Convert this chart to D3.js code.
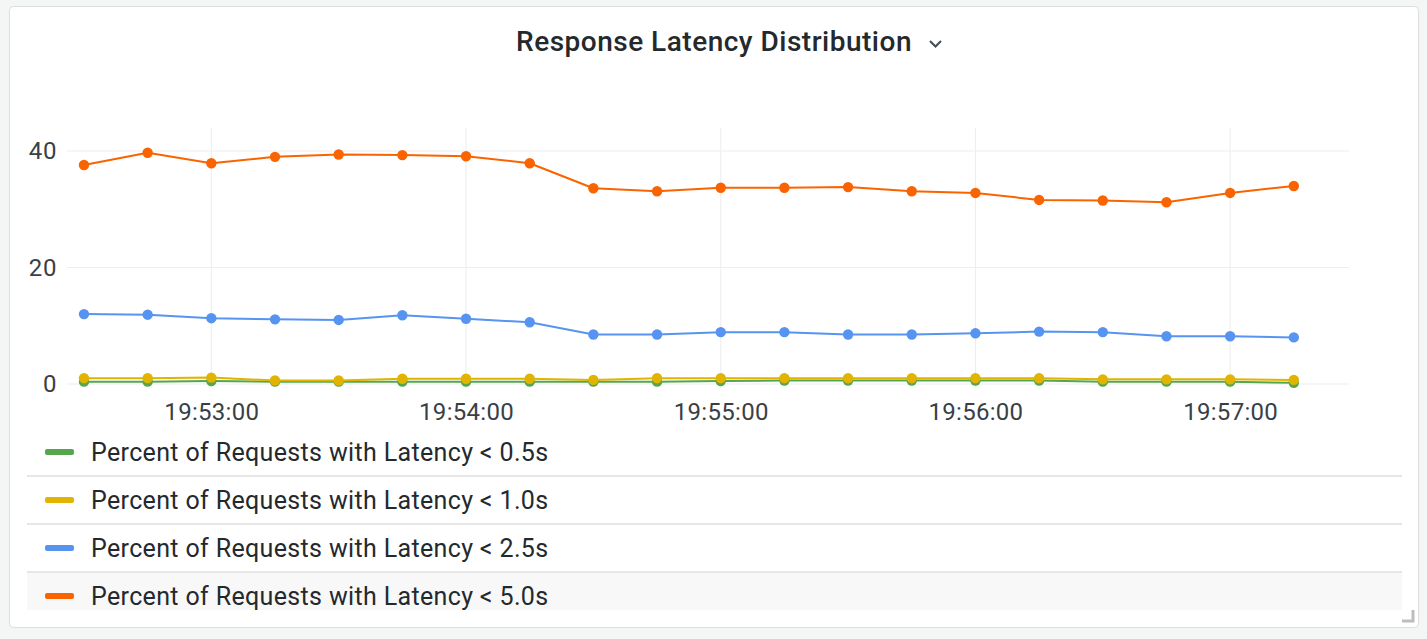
<!DOCTYPE html>
<html><head><meta charset="utf-8">
<script src="https://cdn.jsdelivr.net/npm/d3@7"></script>
<style>
html,body{margin:0;padding:0;background:#f4f5f5;overflow:hidden;}
svg{display:block;font-family:Roboto,"Noto Sans",sans-serif;}
</style></head><body>
<svg id="chart" width="1427" height="639"></svg>
<script>
const times = ["19:52:30","19:52:45","19:53:00","19:53:15","19:53:30","19:53:45","19:54:00","19:54:15","19:54:30","19:54:45",
               "19:55:00","19:55:15","19:55:30","19:55:45","19:56:00","19:56:15","19:56:30","19:56:45","19:57:00","19:57:15"];
const seriesNames = ["Percent of Requests with Latency < 0.5s","Percent of Requests with Latency < 1.0s",
                     "Percent of Requests with Latency < 2.5s","Percent of Requests with Latency < 5.0s"];
const seriesColors = ["#56a64b","#e0b400","#5794f2","#fa6400"];
const lt05 = [0.4,0.4,0.5,0.4,0.4,0.4,0.4,0.4,0.4,0.4, 0.5,0.6,0.6,0.6,0.6,0.6,0.4,0.4,0.4,0.2];
const lt10 = [1.0,1.0,1.1,0.6,0.6,0.9,0.9,0.9,0.7,1.0, 1.0,1.0,1.0,1.0,1.0,1.0,0.8,0.8,0.8,0.7];
const lt25 = [12.0,11.9,11.3,11.1,11.0,11.8,11.2,10.6,8.5,8.5, 8.9,8.9,8.5,8.5,8.7,9.0,8.9,8.2,8.2,8.0];
const lt50 = [37.6,39.7,37.9,39.0,39.4,39.3,39.1,37.9,33.6,33.1, 33.7,33.7,33.8,33.1,32.8,31.6,31.5,31.2,32.8,34.0];
const yTicks = [0,20,40];
const xTickLabels = ["19:53:00","19:54:00","19:55:00","19:56:00","19:57:00"];
const timeDomain = ["19:52:26","19:57:28"];

const seriesValues = [lt05, lt10, lt25, lt50];
const parse = d3.timeParse("%H:%M:%S");
const svg = d3.select("#chart");

// panel
svg.append("rect").attr("x",9.5).attr("y",6.5).attr("width",1409).attr("height",621)
  .attr("rx",4).attr("fill","#ffffff").attr("stroke","#dcdde0");

// title
svg.append("text").attr("x",714).attr("y",51).attr("text-anchor","middle")
  .attr("font-size",28).attr("font-weight",500).attr("letter-spacing",0.5).attr("fill","#24292e")
  .text("Response Latency Distribution");
svg.append("path").attr("d","M930,41 L935.5,46.5 L941,41").attr("fill","none")
  .attr("stroke","#464c54").attr("stroke-width",2);

const x = d3.scaleTime().domain(timeDomain.map(parse)).range([67,1349]);
const y = d3.scaleLinear().domain([0,43.95]).range([384,128]);

// grid
const g = svg.append("g");
g.selectAll(".hg").data(yTicks).join("line")
  .attr("x1",67).attr("x2",1349).attr("y1",d=>y(d)).attr("y2",d=>y(d))
  .attr("stroke","#ededed").attr("stroke-width",1);
g.selectAll(".vg").data(xTickLabels).join("line")
  .attr("x1",d=>x(parse(d))).attr("x2",d=>x(parse(d))).attr("y1",128).attr("y2",388)
  .attr("stroke","#ededed").attr("stroke-width",1);

// axes
const yAxis = d3.axisLeft(y).tickValues(yTicks).tickSize(0).tickPadding(0);
const ya = svg.append("g").attr("transform","translate(57,0)").call(yAxis);
ya.select(".domain").remove();
ya.selectAll("text").attr("font-size",24).attr("letter-spacing",0.6).attr("fill","#3a3f45").attr("font-family","Roboto");

const xAxis = d3.axisBottom(x).tickValues(xTickLabels.map(parse)).tickFormat(d3.timeFormat("%H:%M:%S")).tickSize(0).tickPadding(0);
const xa = svg.append("g").attr("transform","translate(0,403)").call(xAxis);
xa.select(".domain").remove();
xa.selectAll("text").attr("font-size",24).attr("letter-spacing",0.3).attr("fill","#3a3f45").attr("font-family","Roboto");

// series
const line = d3.line().x((d,i)=>x(parse(times[i]))).y(d=>y(d));
const order = [3,2,0,1];
order.forEach(si=>{
  const vals = seriesValues[si];
  svg.append("path").datum(vals).attr("d",line).attr("fill","none")
    .attr("stroke",seriesColors[si]).attr("stroke-width",2).attr("stroke-linejoin","round");
  svg.append("g").selectAll("circle").data(vals).join("circle")
    .attr("cx",(d,i)=>x(parse(times[i]))).attr("cy",d=>y(d)).attr("r",5.2)
    .attr("fill",seriesColors[si]);
});

// legend
const leg = svg.append("g");
const rowY = d3.scaleBand().domain(d3.range(seriesNames.length)).range([428,620]);
leg.append("rect").attr("x",27).attr("y",573).attr("width",1375).attr("height",37).attr("fill","#f8f8f9");
seriesNames.forEach((name,i)=>{
  const cy = rowY(i) + 24;
  leg.append("rect").attr("x",45).attr("y",cy-3).attr("width",29).attr("height",6).attr("rx",2)
    .attr("fill",seriesColors[i]);
  leg.append("text").attr("x",91).attr("y",cy+9).attr("font-size",25).attr("letter-spacing",0.35)
    .attr("fill","#24292e").text(name);
  if(i<seriesNames.length-1){
    leg.append("line").attr("x1",27).attr("x2",1402).attr("y1",rowY(i)+48).attr("y2",rowY(i)+48)
      .attr("stroke","#e6e6e7").attr("stroke-width",2);
  }
});
// resize handle
svg.append("path").attr("d","M1402,621 H1413 V610").attr("fill","none").attr("stroke","#bdbdbd").attr("stroke-width",3);
</script>
</body></html>
